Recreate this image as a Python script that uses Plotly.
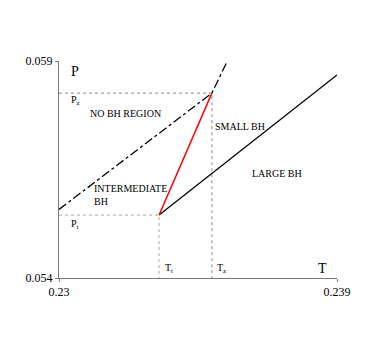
import plotly.graph_objects as go

# axis ranges
t_range = [0.23, 0.239]
p_range = [0.054, 0.059]

# special points
t_triple, p_triple = 0.23324, 0.05545
t_zeroth, p_zeroth = 0.23495, 0.05826

# curves
large_t = [t_triple, 0.239]
large_p = [p_triple, 0.05868]
small_t = [t_triple, t_zeroth]
small_p = [p_triple, p_zeroth]
nobh_t = [0.23, t_zeroth, 0.23545]
nobh_p = [0.05558, p_zeroth, 0.059]

serif = "Liberation Serif"

fig = go.Figure()

# guide lines
fig.add_trace(go.Scatter(x=[t_range[0], t_zeroth, t_zeroth], y=[p_zeroth, p_zeroth, p_range[0]],
                         mode="lines", line=dict(color="#888", width=1, dash="dot")))
fig.add_trace(go.Scatter(x=[t_range[0], t_triple, t_triple], y=[p_triple, p_triple, p_range[0]],
                         mode="lines", line=dict(color="#aaa", width=1, dash="dot")))

fig.add_trace(go.Scatter(x=nobh_t, y=nobh_p, mode="lines",
                         line=dict(color="black", width=1.3, dash="dashdot")))
fig.add_trace(go.Scatter(x=large_t, y=large_p, mode="lines", line=dict(color="black", width=1.3)))
fig.add_trace(go.Scatter(x=small_t, y=small_p, mode="lines", line=dict(color="red", width=1.5)))

labels = [
    (0.23032, 0.05875, "P", 14),
    (0.23832, 0.05423, "T", 14),
    (0.23032, 0.05808, "P<sub>z</sub>", 10),
    (0.23032, 0.05524, "P<sub>t</sub>", 10),
    (0.23337, 0.05423, "T<sub>t</sub>", 10),
    (0.23505, 0.05423, "T<sub>z</sub>", 10),
    (0.23094, 0.05778, "NO BH REGION", 10),
    (0.23499, 0.05748, "SMALL BH", 10),
    (0.23618, 0.05640, "LARGE BH", 10),
    (0.23107, 0.05592, "INTERMEDIATE<br>BH", 10),
]
for x, y, txt, sz in labels:
    fig.add_annotation(x=x, y=y, text=txt, showarrow=False, xanchor="left", yanchor="middle",
                       align="left", font=dict(family=serif, size=sz, color="black"))

fig.update_layout(
    width=370, height=346,
    margin=dict(l=51, r=41, t=53, b=76),
    paper_bgcolor="white", plot_bgcolor="white",
    showlegend=False,
    font=dict(family=serif, size=12, color="black"),
    xaxis=dict(range=t_range, tickvals=t_range, ticktext=["0.23", "0.239"],
               showgrid=False, zeroline=False, showline=True, linecolor="#777",
               linewidth=1, ticks="outside", ticklen=3, tickcolor="#777"),
    yaxis=dict(range=p_range, tickvals=p_range, ticktext=["0.054", "0.059"],
               showgrid=False, zeroline=False, showline=True, linecolor="#777",
               linewidth=1, ticks="outside", ticklen=3, tickcolor="#777"),
)

fig.write_html("out.html")
